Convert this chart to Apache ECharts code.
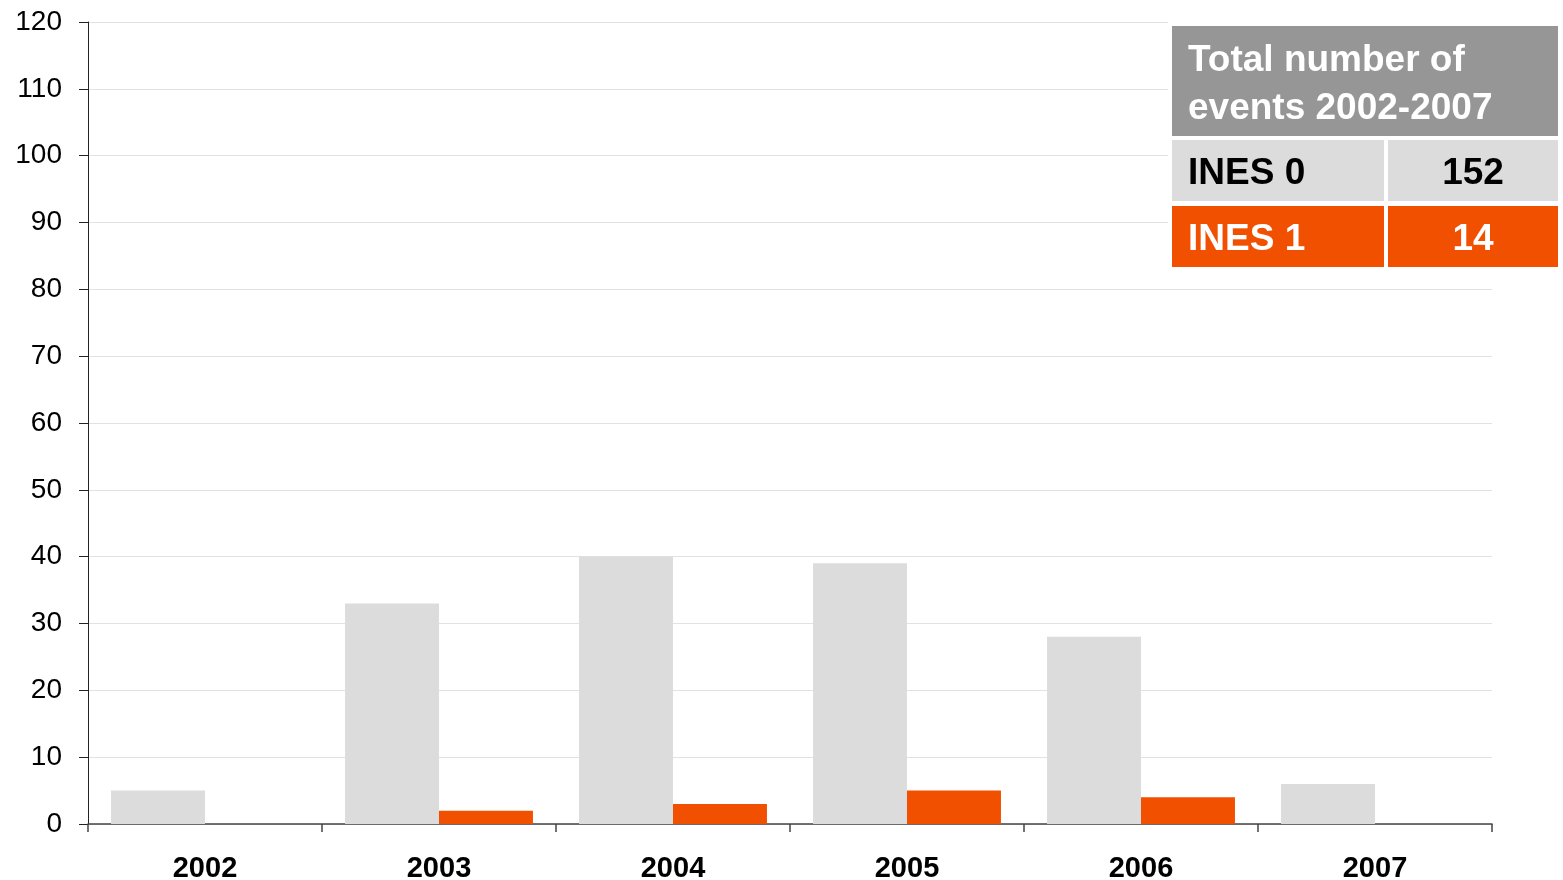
<!DOCTYPE html>
<html>
<head>
<meta charset="utf-8">
<script src="https://cdn.jsdelivr.net/npm/echarts@6/dist/echarts.min.js"></script>
<style>html,body{margin:0;padding:0;background:#fff}#c{width:1563px;height:880px}</style>
</head>
<body>
<div id="c"></div>
<script>
var categories = ['2002', '2003', '2004', '2005', '2006', '2007'];
var ines0 = [5, 33, 40, 39, 28, 6];
var ines1 = [0, 2, 3, 5, 4, 0];
var tableTitle = ['Total number of', 'events 2002-2007'];
var tableRows = [['INES 0', '152'], ['INES 1', '14']];

var GRAY = '#dcdcdc', ORANGE = '#f05000', HEAD = '#969696';
var FONT = '"Liberation Sans", Arial, sans-serif';

var chart = echarts.init(document.getElementById('c'), null, {renderer: 'canvas'});
chart.setOption({
  animation: false,
  backgroundColor: '#fff',
  grid: {left: 88, right: 71, top: 22, bottom: 56, containLabel: false, outerBoundsMode: 'none'},
  xAxis: {
    type: 'category', data: categories,
    axisLine: {lineStyle: {color: '#444', width: 1.5}},
    axisTick: {show: true, length: 8, lineStyle: {color: '#444', width: 1.5}},
    axisLabel: {color: '#000', fontFamily: FONT, fontWeight: 'bold', fontSize: 29, margin: 30},
    splitLine: {show: false}
  },
  yAxis: {
    type: 'value', min: 0, max: 120, interval: 10,
    axisLine: {show: true, lineStyle: {color: '#222', width: 1}},
    axisTick: {show: true, length: 9, lineStyle: {color: '#222'}},
    axisLabel: {color: '#000', fontFamily: FONT, fontSize: 28, margin: 26},
    splitLine: {lineStyle: {color: '#e2e2e2', width: 1}}
  },
  series: [
    {type: 'bar', name: 'INES 0', data: ines0, itemStyle: {color: GRAY}, barGap: '0%', barCategoryGap: '19.7%'},
    {type: 'bar', name: 'INES 1', data: ines1, itemStyle: {color: ORANGE}, barGap: '0%', barCategoryGap: '19.7%'}
  ],
  graphic: [
    {type: 'rect', shape: {x: 1168, y: 22, width: 395, height: 248}, style: {fill: '#fff'}, z: 10},
    {type: 'rect', shape: {x: 1172, y: 26, width: 386, height: 110}, style: {fill: HEAD}, z: 11},
    {type: 'text', x: 1188, y: 61, style: {text: tableTitle[0], fill: '#fff', font: 'bold 37px ' + FONT, textVerticalAlign: 'middle'}, z: 12},
    {type: 'text', x: 1188, y: 109, style: {text: tableTitle[1], fill: '#fff', font: 'bold 37px ' + FONT, textVerticalAlign: 'middle'}, z: 12},
    {type: 'rect', shape: {x: 1172, y: 140, width: 212, height: 61}, style: {fill: GRAY}, z: 11},
    {type: 'rect', shape: {x: 1388, y: 140, width: 170, height: 61}, style: {fill: GRAY}, z: 11},
    {type: 'text', x: 1188, y: 174, style: {text: tableRows[0][0], fill: '#000', font: 'bold 37px ' + FONT, textVerticalAlign: 'middle'}, z: 12},
    {type: 'text', x: 1473, y: 174, style: {text: tableRows[0][1], fill: '#000', font: 'bold 37px ' + FONT, textAlign: 'center', textVerticalAlign: 'middle'}, z: 12},
    {type: 'rect', shape: {x: 1172, y: 206, width: 212, height: 61}, style: {fill: ORANGE}, z: 11},
    {type: 'rect', shape: {x: 1388, y: 206, width: 170, height: 61}, style: {fill: ORANGE}, z: 11},
    {type: 'text', x: 1188, y: 240, style: {text: tableRows[1][0], fill: '#fff', font: 'bold 37px ' + FONT, textVerticalAlign: 'middle'}, z: 12},
    {type: 'text', x: 1473, y: 240, style: {text: tableRows[1][1], fill: '#fff', font: 'bold 37px ' + FONT, textAlign: 'center', textVerticalAlign: 'middle'}, z: 12}
  ]
});
</script>
</body>
</html>
